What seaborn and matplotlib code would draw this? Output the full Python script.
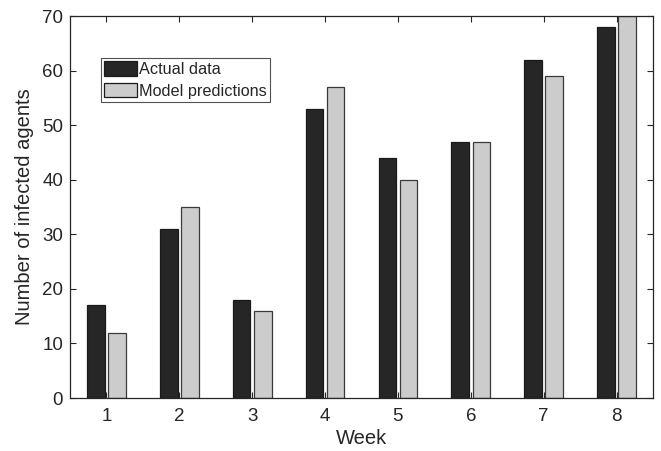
import matplotlib
matplotlib.use("Agg")
import matplotlib.pyplot as plt
import seaborn as sns
import pandas as pd

weeks = ["1", "2", "3", "4", "5", "6", "7", "8"]
actual = [17, 31, 18, 53, 44, 47, 62, 68]
predicted = [12, 35, 16, 57, 40, 47, 59, 70]
series_names = ["Actual data", "Model predictions"]

df = pd.DataFrame({
    "Week": weeks * 2,
    "Infected": actual + predicted,
    "Series": [series_names[0]] * len(weeks) + [series_names[1]] * len(weeks),
})

sns.set_theme(style="white")
plt.rcParams["font.family"] = ["Liberation Sans", "DejaVu Sans"]

fig = plt.figure(figsize=(6.61, 4.51), dpi=100)
ax = fig.add_axes([0.1059, 0.1175, 0.882, 0.847])

sns.barplot(
    data=df, x="Week", y="Infected", hue="Series", order=weeks,
    hue_order=series_names, palette=["#262626", "#cccccc"],
    width=0.58, gap=0.17, ax=ax, errorbar=None, saturation=1,
    edgecolor="#1a1a1a", linewidth=0.9,
)
for bar in ax.containers[1]:
    bar.set_edgecolor("#3a3a3a")

ax.set_xlim(-0.5, 7.5)
ax.set_ylim(0, 70)
ax.set_yticks(range(0, 71, 10))
ax.set_xlabel("Week", fontsize=14.5, color="#262626", labelpad=3)
ax.set_ylabel("Number of infected agents", fontsize=14.5, color="#262626", labelpad=6)
ax.tick_params(direction="in", length=4, width=0.8, colors="#262626",
               labelsize=13.5, top=True, right=True, bottom=True, left=True)
ax.tick_params(axis="x", pad=7)
ax.tick_params(axis="y", pad=5)
for sp in ax.spines.values():
    sp.set_visible(True)
    sp.set_color("#262626")
    sp.set_linewidth(0.9)

leg = ax.legend(loc="upper left", bbox_to_anchor=(0.053, 0.89), borderaxespad=0,
                fontsize=11.7, frameon=True, fancybox=False, handlelength=2.0,
                handleheight=1.0, handletextpad=0.15, labelspacing=0.35,
                borderpad=0.2, edgecolor="#262626")
leg.get_frame().set_linewidth(0.8)

fig.savefig("out.png", dpi=100)
